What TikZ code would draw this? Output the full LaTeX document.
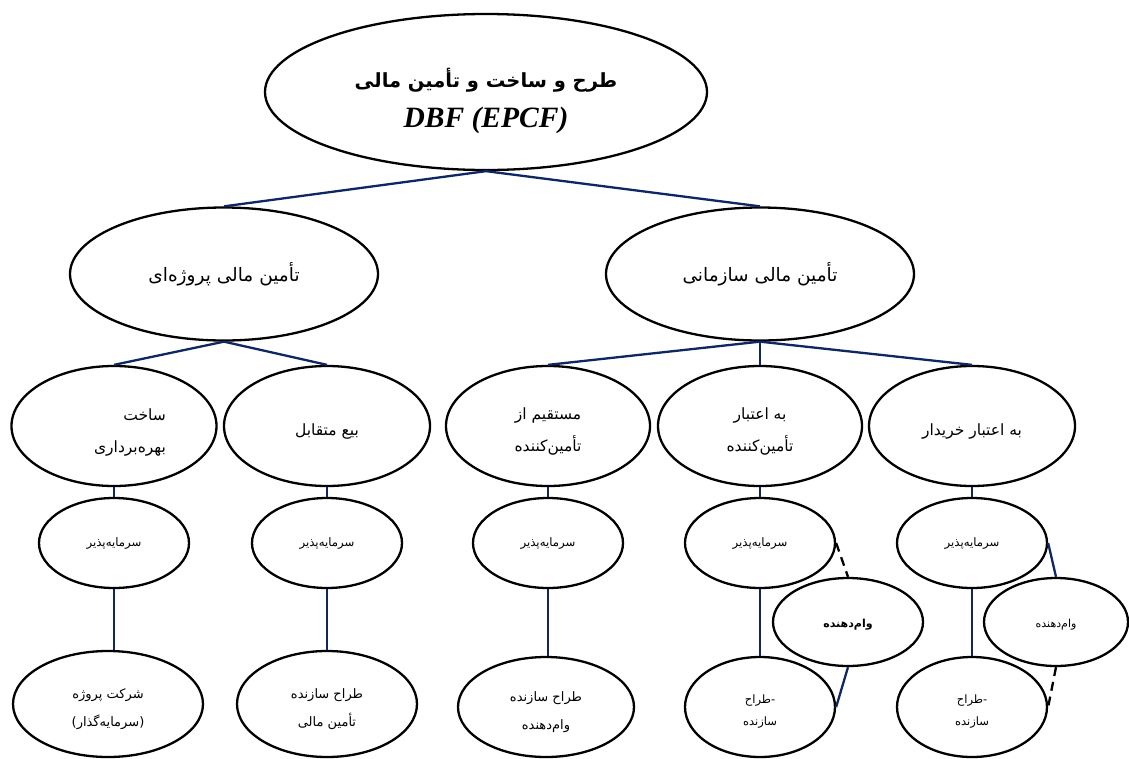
\documentclass[tikz,border=0pt]{standalone}
\usepackage{fontspec}
\usetikzlibrary{shapes.geometric}
\TeXXeTstate=1
\newfontfamily\fa[Script=Arabic]{DejaVu Sans}
\newfontfamily\tnr{Liberation Serif}
\newcommand\rtl[1]{\beginR #1\endR}
\definecolor{navy}{RGB}{14,38,98}
\tikzset{
  ell/.style={ellipse, draw=black, line width=2.3pt, inner sep=0pt, align=center, fill=white},
  conn/.style={draw=navy, line width=2.3pt},
  dconn/.style={draw=black, line width=2.3pt, dash pattern=on 9pt off 6pt},
  big/.style={font=\fa\fontsize{18.5}{30}\selectfont},
  mid/.style={font=\fa\fontsize{15.5}{32}\selectfont},
  sml/.style={font=\fa\fontsize{11.7}{14}\selectfont},
  low/.style={font=\fa\fontsize{13}{28}\selectfont},
  lows/.style={font=\fa\fontsize{11.5}{22}\selectfont},
}
\newcommand\upmid{\rule{0pt}{22pt}}
\newcommand\uplow{\rule{0pt}{20pt}}
\newcommand\uplows{\rule{0pt}{18.5pt}}
\begin{document}
\begin{tikzpicture}[x=1pt,y=-1pt]
\useasboundingbox (0,0) rectangle (1129,758);
% root
\node[ell, minimum width=442pt, minimum height=156pt] (root) at (486,92)
  {{\fa\bfseries\fontsize{19.5}{38}\selectfont\rule{0pt}{38pt}\rtl{طرح و ساخت و تأمین مالی}}\\[14pt]
   {\tnr\bfseries\itshape\fontsize{29.5}{30}\selectfont DBF (EPCF)}};
% level 1
\node[ell, big, minimum width=308pt, minimum height=133pt] (pL) at (224,274)
  {\rtl{تأمین مالی پروژه^^^^200cای}};
\node[ell, big, minimum width=308pt, minimum height=133pt] (pR) at (760,274)
  {\rtl{تأمین مالی سازمانی}};
% level 2
\node[ell, mid, minimum width=205pt, minimum height=120pt] (a1) at (114,426)
  {\begin{tabular}{@{\hspace{32pt}}r@{}}\rule{0pt}{30pt}\rtl{ساخت}\\\rtl{بهره^^^^200cبرداری}\end{tabular}};
\node[ell, mid, minimum width=206pt, minimum height=120pt] (a2) at (327,426)
  {\upmid\rtl{بیع متقابل}};
\node[ell, mid, minimum width=204pt, minimum height=120pt] (a3) at (548,426)
  {\upmid\rtl{مستقیم از}\\\rtl{تأمین^^^^200cکننده}};
\node[ell, mid, minimum width=204pt, minimum height=120pt] (a4) at (760,426)
  {\upmid\rtl{به اعتبار}\\\rtl{تأمین^^^^200cکننده}};
\node[ell, mid, minimum width=206pt, minimum height=120pt] (a5) at (972,426)
  {\upmid\rtl{به اعتبار خریدار}};
% level 3
\foreach \n/\x in {s1/114, s2/327, s3/548, s4/760, s5/972}
  \node[ell, sml, minimum width=150pt, minimum height=90pt] (\n) at (\x,543)
    {\rtl{سرمایه^^^^200cپذیر}};
% lenders
\node[ell, minimum width=150pt, minimum height=88pt,
      font=\fa\bfseries\fontsize{11}{14}\selectfont] (v1) at (848,622)
  {\rule{0pt}{14pt}\rtl{وام^^^^200cدهنده}};
\node[ell, minimum width=144pt, minimum height=88pt,
      font=\fa\fontsize{11}{14}\selectfont] (v2) at (1056,622)
  {\rule{0pt}{14pt}\rtl{وام^^^^200cدهنده}};
% level 4
\node[ell, low, minimum width=190pt, minimum height=106pt] (t1) at (108,704)
  {\uplow\rtl{شرکت پروژه}\\\rtl{(سرمایه^^^^200cگذار)}};
\node[ell, low, minimum width=180pt, minimum height=106pt] (t2) at (327,704)
  {\uplow\rtl{طراح سازنده}\\\rtl{تأمین مالی}};
\node[ell, low, minimum width=176pt, minimum height=100pt] (t3) at (546,707)
  {\uplow\rtl{طراح سازنده}\\\rtl{وام^^^^200cدهنده}};
\node[ell, lows, minimum width=150pt, minimum height=100pt] (t4) at (760,707)
  {\uplows\rtl{طراح}-\\\rtl{سازنده}};
\node[ell, lows, minimum width=150pt, minimum height=100pt] (t5) at (972,707)
  {\uplows\rtl{طراح}-\\\rtl{سازنده}};
% connectors
\draw[conn] (root.south) -- (pL.north);
\draw[conn] (root.south) -- (pR.north);
\draw[conn] (pL.south) -- (a1.north);
\draw[conn] (pL.south) -- (a2.north);
\draw[conn] (pR.south) -- (a3.north);
\draw[conn] (pR.south) -- (a4.north);
\draw[conn] (pR.south) -- (a5.north);
\foreach \a/\s in {a1/s1, a2/s2, a3/s3, a4/s4, a5/s5}
  \draw[conn] (\a.south) -- (\s.north);
\foreach \s/\t in {s1/t1, s2/t2, s3/t3, s4/t4, s5/t5}
  \draw[conn] (\s.south) -- (\s.south |- \t.north);
\draw[dconn] (s4.east) -- (v1.north);
\draw[conn] (v1.south) -- (t4.east);
\draw[conn] (s5.east) -- (v2.north);
\draw[dconn] (v2.south) -- (t5.east);
\end{tikzpicture}
\end{document}
